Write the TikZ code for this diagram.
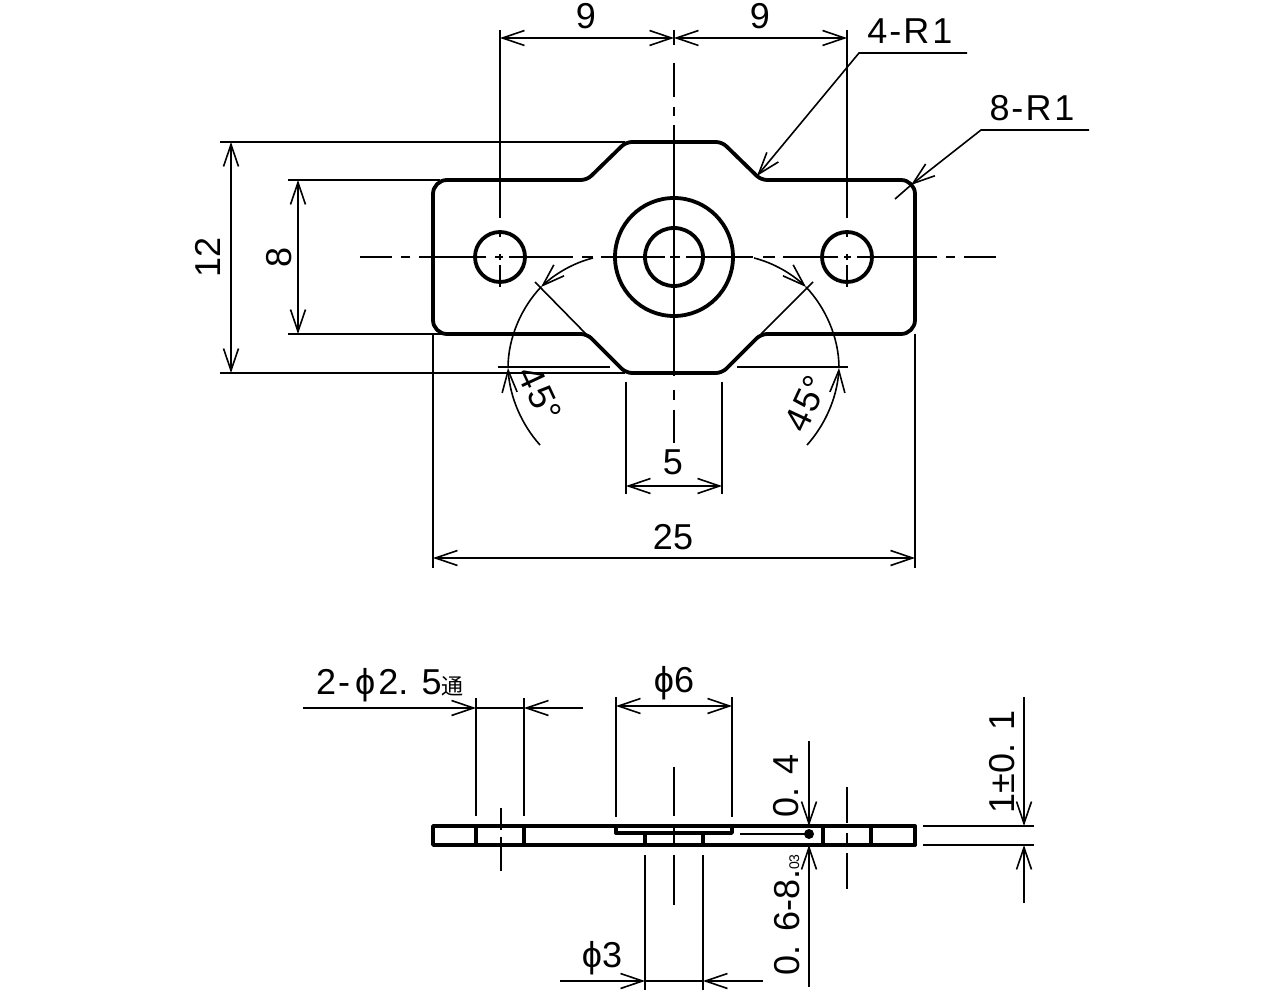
\documentclass[tikz,border=0pt]{standalone}
\usepackage{fontspec}
\setmainfont{Liberation Sans}
\newfontfamily\cjk{Noto Sans CJK JP}
\usetikzlibrary{arrows.meta}
\tikzset{
  outline/.style={line width=1.9pt, line join=round},
  recess/.style={line width=1.7pt, line join=round},
  dimline/.style={line width=.8pt},
}
\begin{document}
\begin{tikzpicture}[x=.5pt, y=-.5pt, dimline, >={Straight Barb[length=11pt,width=7.5pt]}]
\tikzstyle{every node} = [inner sep=0pt, font=\fontsize{18}{18}\selectfont]
\useasboundingbox (0,0) rectangle (1284,994);
\draw[outline] (433,257) [rounded corners=7pt] -- (433,180) [rounded corners=3pt] -- (587,180) -- (626,142) -- (722,142) -- (761,180) [rounded corners=7pt] -- (915,180) -- (915,334) [rounded corners=3pt] -- (761,334) -- (722,373) -- (626,373) -- (587,334) [rounded corners=7pt] -- (433,334) -- cycle;
\draw[outline] (500,257) circle (25);
\draw[outline] (847,257) circle (25);
\draw[outline] (674,257) circle (59);
\draw[outline] (674,257) circle (29);
\foreach \a/\b in {360/392, 401/410, 419/486, 495/503, 509/573, 582/593, 601/665, 670/680, 686/753, 763/775, 783/838, 844/851, 857/937, 946/955, 964/996}
  \draw (\a,257) -- (\b,257);
\foreach \a/\b in {30/45, 63/97, 107/116, 125/376, 390/400, 410/443}
  \draw (674,\a) -- (674,\b);
\foreach \x in {500,847}
  \foreach \a/\b in {30/218, 230/237, 254/260, 265/287}
    \draw (\x,\a) -- (\x,\b);
\draw[<->] (500,38) -- (674,38);
\draw[<->] (674,38) -- (847,38);
\node (dimA) at (586,16) {9};
\node (dimB) at (760,16) {9};
\draw[->] (967,53) -- (859,53) -- (757,176);
\node (lblA) at (910,31) {4\kern1pt-\kern1pt R\kern1.5pt 1};
\draw[->] (1089,130) -- (981,130) -- (911,185);
\draw (911,185) -- (895,199);
\node (lblB) at (1032,108) {8\kern1pt-\kern1pt R\kern1.5pt 1};
\draw (220,142) -- (625,142);
\draw (220,373) -- (625,373);
\draw[<->] (231,142) -- (231,373);
\node[rotate=90] (dimC) at (208,257) {12};
\draw (288,180) -- (440,180);
\draw (288,334) -- (445,334);
\draw[<->] (298,180) -- (298,334);
\node[rotate=90] (dimD) at (279,257) {8};
\draw (433,334) -- (433,568);
\draw (915,334) -- (915,568);
\draw[<->] (433,558) -- (915,558);
\node (dimE) at (673,537) {25};
\draw (626,382) -- (626,494);
\draw (722,382) -- (722,494);
\draw[<->] (626,486) -- (722,486);
\node (dimF) at (673,462) {5};
\draw (535,282) -- (586,334);
\draw (813,282) -- (761,334);
\draw (498,367) -- (610,367);
\draw (737,367) -- (848,367);
\draw[->] (593,258) .. controls (573,263) and (555,274) .. (541,287);
\draw (541,287) .. controls (522,307) and (508,337) .. (508,368);
\draw[->] (540,445) .. controls (522,425) and (510,398) .. (508,368);
\draw[->] (754,258) .. controls (774,263) and (792,274) .. (806,287);
\draw (806,287) .. controls (825,307) and (839,337) .. (839,368);
\draw[->] (807,445) .. controls (825,425) and (837,398) .. (839,368);
\node[rotate=-65] (angA) at (540,394) {4\kern1pt 5°};
\node[rotate=65] (angB) at (806,404) {4\kern1pt 5°};
\draw[outline] (433,826) rectangle (915,845);
\draw[outline] (476,826) -- (476,845);
\draw[outline] (524,826) -- (524,845);
\draw[outline] (823,826) -- (823,845);
\draw[outline] (871,826) -- (871,845);
\draw[recess] (616,826) -- (616,833) -- (732,833) -- (732,826);
\draw[recess] (645,833) -- (645,845);
\draw[recess] (703,833) -- (703,845);
\draw (674,826) -- (674,845);
\draw (476,698) -- (476,816);
\draw (524,698) -- (524,816);
\draw[->] (303,708) -- (476,708);
\draw (476,708) -- (524,708);
\draw[->] (583,708) -- (524,708);
\node (dimG) at (390,685) {2\kern1pt-\kern2.5pt ϕ\kern1.5pt 2. 5{\cjk\fontsize{11}{11}\selectfont 通}};
\draw (501,808) -- (501,830);
\draw (501,837) -- (501,871);
\draw (847,787) -- (847,823);
\draw (847,833) -- (847,845);
\draw (847,853) -- (847,889);
\draw (616,697) -- (616,817);
\draw (732,697) -- (732,817);
\draw[<->] (616,706) -- (732,706);
\node (dimH) at (674,683) {ϕ6};
\draw (674,767) -- (674,816);
\draw (674,855) -- (674,905);
\draw (645,855) -- (645,990);
\draw (703,855) -- (703,990);
\draw[->] (560,981) -- (645,981);
\draw (645,981) -- (703,981);
\draw[->] (763,981) -- (703,981);
\node (dimI) at (602,958) {ϕ3};
\draw (740,834) -- (809,834);
\fill (809,834) circle (5);
\draw[->] (809,741) -- (809,826);
\draw[->] (809,987) -- (809,845);
\node[rotate=90] (dimJ) at (786,786) {0. 4};
\node[rotate=90, anchor=base west] (dimK) at (799,976) {0. 6-8.{\fontsize{7}{7}\selectfont 03}};
\draw (923,826) -- (1034,826);
\draw (923,845) -- (1034,845);
\draw[->] (1024,697) -- (1024,826);
\draw[->] (1024,903) -- (1024,845);
\node[rotate=90] (dimL) at (1002,762) {1±0. 1};
\end{tikzpicture}
\end{document}
